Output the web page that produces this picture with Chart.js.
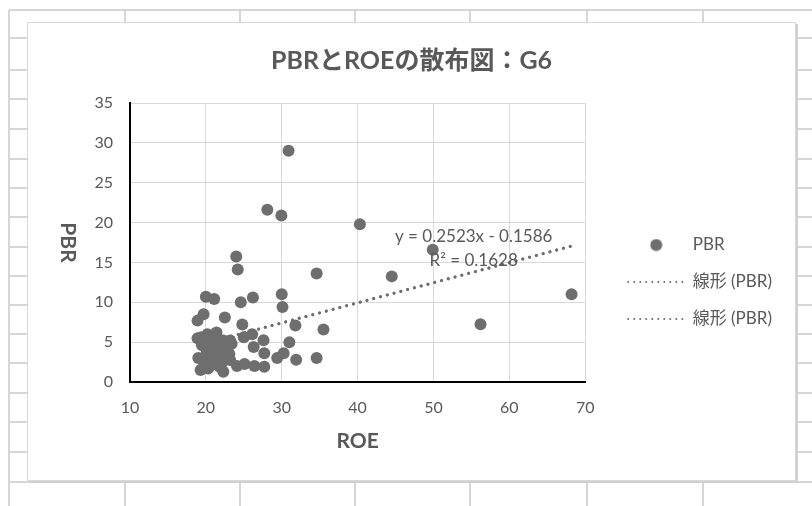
<!DOCTYPE html>
<html>
<head>
<meta charset="utf-8">
<script src="https://cdn.jsdelivr.net/npm/chart.js@4.4.1/dist/chart.umd.min.js"></script>
<style>
  html, body { margin: 0; padding: 0; background: #fff; }
</style>
</head>
<body>
<canvas id="chart" width="812" height="506"></canvas>
<script>
// ROE (x) and PBR (y)
const roe = [30.9, 28.1, 29.95, 40.3, 24.0, 24.2, 34.6, 44.5, 49.9, 68.2, 56.2,
  20.0, 21.1, 24.6, 26.2, 30.0, 30.1, 19.7, 18.9, 22.5, 24.8, 31.8, 35.5,
  21.4, 18.9, 25.0, 26.1, 27.6, 31.0, 23.2, 26.3, 27.7, 29.4, 30.25, 31.9, 34.6,
  22.3, 24.1, 25.1, 26.4, 27.7, 23.2,
  19.0, 19.3, 19.5, 19.7, 19.9, 20.1, 20.3, 20.5, 20.7, 20.9, 21.1, 21.3, 21.5,
  21.7, 21.9, 22.1, 22.3, 22.6, 22.9, 23.1, 20.2, 19.4, 21.8, 23.4, 20.6, 22.2];
const pbr = [29.0, 21.6, 20.9, 19.8, 15.75, 14.1, 13.6, 13.25, 16.6, 11.0, 7.25,
  10.7, 10.4, 10.0, 10.6, 11.0, 9.4, 8.5, 7.7, 8.1, 7.2, 7.1, 6.6,
  6.2, 5.5, 5.6, 6.0, 5.25, 5.0, 5.2, 4.4, 3.6, 3.0, 3.6, 2.8, 3.0,
  1.3, 2.0, 2.25, 2.0, 1.9, 2.75,
  3.0, 1.5, 4.6, 2.6, 5.1, 3.6, 1.7, 4.3, 2.9, 3.9, 5.4, 2.3, 3.4,
  4.8, 2.7, 3.9, 5.2, 3.1, 4.4, 3.5, 6.0, 5.6, 1.9, 4.8, 2.1, 2.5];

const seriesName = 'PBR';
const trendName = '線形 (PBR)';
const trendSlope = 0.2523;
const trendIntercept = -0.1586;
const rSquared = 0.1628;
// where Excel put the equation label (data units)
const labelX = 55.3;
const labelY1 = 18.3;
const labelY2 = 15.3;

const xMin = 10, xMax = 70, xStep = 10;
const yMin = 0, yMax = 35, yStep = 5;

const FONT = "Lato, 'Noto Sans CJK JP', sans-serif";
const TEXT = '#595959';
const MARK = '#6e6e6e';

Chart.defaults.font.family = FONT;
Chart.defaults.color = TEXT;

const points = roe.map((x, i) => ({ x: x, y: pbr[i] }));
const lo = Math.min(...roe), hi = Math.max(...roe);
const trend = [lo, hi].map(x => ({ x: x, y: trendSlope * x + trendIntercept }));

// round marker for the legend
const dot = document.createElement('canvas');
dot.width = 13; dot.height = 13;
const dctx = dot.getContext('2d');
dctx.fillStyle = MARK;
dctx.beginPath();
dctx.arc(6.5, 6.5, 6, 0, Math.PI * 2);
dctx.fill();

// worksheet cells behind the chart object
const sheetCols = [9, 125, 240, 355, 470, 587, 703];
const sheetRows = [10, 38, 70, 99, 129, 159, 188, 217, 247, 276, 305, 334, 363, 393, 422, 452, 482];

const sheet = {
  id: 'sheet',
  beforeDraw(chart) {
    const ctx = chart.ctx;
    ctx.save();
    ctx.fillStyle = '#fff';
    ctx.fillRect(0, 0, chart.width, chart.height);
    ctx.strokeStyle = '#d6d6d6';
    ctx.lineWidth = 2;
    ctx.beginPath();
    sheetCols.forEach(x => { ctx.moveTo(x, 10); ctx.lineTo(x, chart.height); });
    sheetRows.forEach(y => { ctx.moveTo(9, y); ctx.lineTo(chart.width, y); });
    ctx.stroke();
    // chart box
    ctx.fillStyle = '#d0d0d0';
    ctx.fillRect(29, 24, 769, 459);
    ctx.fillStyle = '#fff';
    ctx.fillRect(27, 22, 769, 459);
    ctx.strokeStyle = '#d9d9d9';
    ctx.lineWidth = 1;
    ctx.strokeRect(27.5, 22.5, 768, 458);
    ctx.restore();
  }
};

const extraText = {
  id: 'extraText',
  afterDatasetsDraw(chart) {
    const { ctx, chartArea, scales } = chart;
    ctx.save();
    ctx.fillStyle = TEXT;
    ctx.textAlign = 'center';
    ctx.textBaseline = 'middle';
    ctx.font = '17px ' + FONT;
    const lx = scales.x.getPixelForValue(labelX);
    const sign = trendIntercept < 0 ? ' - ' : ' + ';
    ctx.fillText('y = ' + trendSlope + 'x' + sign + Math.abs(trendIntercept), lx, scales.y.getPixelForValue(labelY1));
    ctx.fillText('R² = ' + rSquared, lx, scales.y.getPixelForValue(labelY2));
    // vertical axis title, turned clockwise like the original
    ctx.font = 'bold 21px ' + FONT;
    ctx.translate(chartArea.left - 62, (chartArea.top + chartArea.bottom) / 2);
    ctx.rotate(Math.PI / 2);
    ctx.fillText('PBR', 0, 0);
    ctx.restore();
  }
};

const trendStyle = {
  type: 'line',
  label: trendName,
  data: trend,
  borderColor: MARK,
  borderWidth: 3,
  borderDash: [0.01, 7],
  borderCapStyle: 'round',
  pointRadius: 0,
  fill: false
};

new Chart(document.getElementById('chart'), {
  type: 'scatter',
  data: {
    datasets: [
      {
        label: seriesName,
        data: points,
        backgroundColor: MARK,
        borderWidth: 0,
        pointRadius: 6,
        pointHoverRadius: 6
      },
      Object.assign({}, trendStyle),
      Object.assign({}, trendStyle)
    ]
  },
  options: {
    responsive: false,
    animation: false,
    layout: { padding: { top: 0, bottom: 56, left: 41, right: 30 } },
    scales: {
      x: {
        type: 'linear',
        min: xMin, max: xMax,
        ticks: { stepSize: xStep, padding: 16, font: { size: 16 }, color: TEXT },
        grid: { color: '#d9d9d9', drawTicks: false },
        border: { color: '#000', width: 2 },
        title: { display: true, text: 'ROE', color: TEXT, font: { size: 21, weight: 'bold', lineHeight: 0.8 }, padding: 0 }
      },
      y: {
        type: 'linear',
        min: yMin, max: yMax,
        ticks: { stepSize: yStep, padding: 17, font: { size: 16 }, color: TEXT },
        grid: { color: '#d9d9d9', drawTicks: false },
        border: { color: '#000', width: 2 },
        afterFit: s => { s.width = 89; }
      },
      // empty strip between the plot and the legend
      gap: {
        type: 'linear',
        position: 'right',
        display: false,
        afterFit: s => { s.width = 23; }
      }
    },
    plugins: {
      title: {
        display: true,
        text: 'PBRとROEの散布図：G6',
        color: TEXT,
        font: { size: 25, weight: 'bold' },
        padding: { top: 46, bottom: 27 }
      },
      legend: {
        position: 'right',
        align: 'start',
        title: { display: true, text: '', font: { size: 12 }, padding: { top: 202.1, bottom: 0 } },
        labels: {
          usePointStyle: true,
          pointStyleWidth: 56,
          padding: 20,
          color: TEXT,
          font: { size: 17 },
          generateLabels: chart => chart.data.datasets.map((ds, i) => i === 0
            ? { text: ds.label, pointStyle: dot, fillStyle: MARK, strokeStyle: MARK, lineWidth: 0, datasetIndex: i, hidden: false }
            : { text: ds.label, pointStyle: 'line', fillStyle: MARK, strokeStyle: MARK, lineWidth: 2, lineDash: [0.01, 6], lineCap: 'round', datasetIndex: i, hidden: false })
        }
      },
      tooltip: { enabled: false }
    }
  },
  plugins: [sheet, extraText]
});
</script>
</body>
</html>
